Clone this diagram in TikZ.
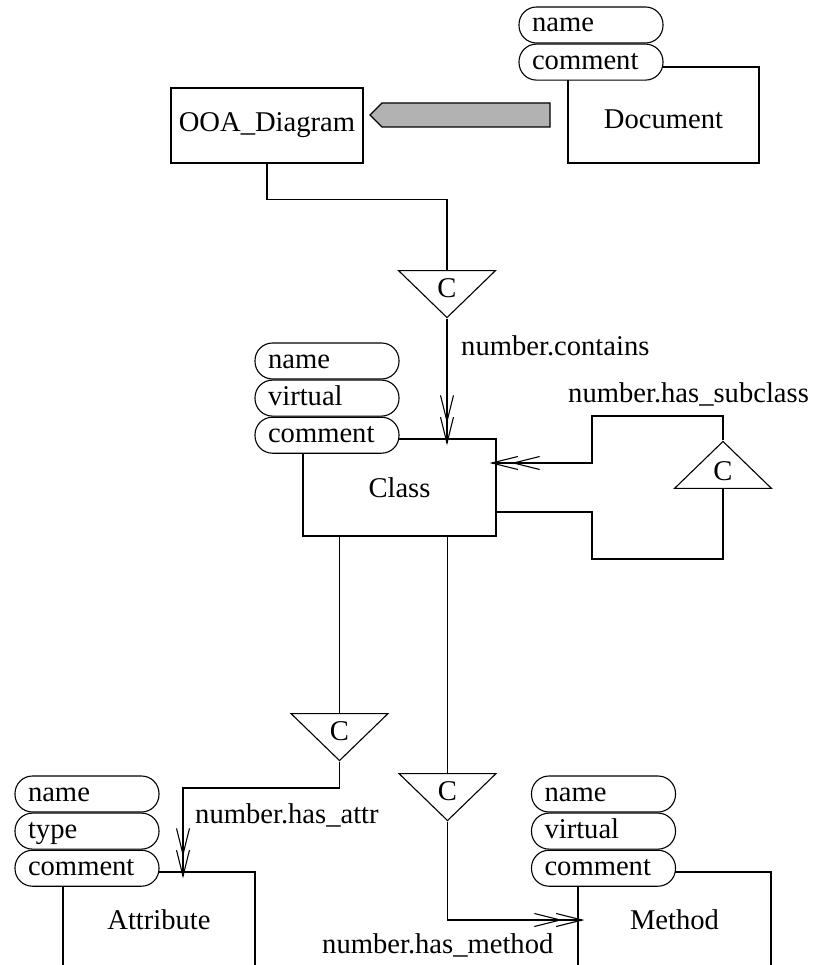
\documentclass[tikz,border=0pt]{standalone}
\usepackage{fontspec}
\setmainfont{Liberation Serif}
\usetikzlibrary{arrows.meta,calc,positioning,shapes.geometric,shapes.symbols}
\newcommand{\diagtext}{\fontsize{28.6}{32}\selectfont}
\tikzset{
  >={Straight Barb[length=26pt,width=13pt,sep=-7pt]},
  link/.style={draw=black,line width=1.1pt},
  card/.style={link,->>},
  entity/.style={draw,line width=1.1pt,fill=white,font=\diagtext,inner sep=0pt},
  attrpill/.style={draw,line width=1.1pt,fill=white,rounded corners=17.5pt,minimum height=36pt,text width=118pt,inner xsep=13pt,inner ysep=0pt,text height=21pt,text depth=7pt,align=left,font=\diagtext},
  ctri/.style={draw,line width=1.1pt,fill=white,isosceles triangle,isosceles triangle stretches,minimum width=97pt,minimum height=47pt,inner sep=0pt,font=\diagtext},
  cdown/.style={ctri,shape border rotate=-90},
  cup/.style={ctri,shape border rotate=90},
  rolelabel/.style={font=\diagtext,inner sep=0pt,anchor=base west}
}

\begin{document}
\begin{tikzpicture}[x=1pt,y=-1pt]
  \useasboundingbox (0,0) rectangle (817,965);
  \clip (0,0) rectangle (817,965);

  % Entity boxes, drawn before their attribute pills.
  \node[entity,minimum width=192pt,minimum height=75pt] (ooa) at (267,125.5) {OOA\_Diagram};
  \node[entity,minimum width=191pt,minimum height=96pt,text height=27pt] (document) at (663.5,115) {Document};
  \node[entity,minimum width=193pt,minimum height=97pt] (class) at (399.5,487.5) {Class};
  \node[entity,minimum width=192pt,minimum height=96pt] (attribute) at (159,920) {Attribute};
  \node[entity,minimum width=193pt,minimum height=96pt] (method) at (674.5,920) {Method};

  % Attribute pills.
  \node[attrpill] (docname) at (591,25) {name};
  \node[attrpill,below=0pt of docname] (doccomment) {comment};
  \node[attrpill] (classname) at (327,361) {name};
  \node[attrpill,below=0pt of classname] (classvirtual) {virtual};
  \node[attrpill,below=0pt of classvirtual] (classcomment) {comment};
  \node[attrpill] (attrname) at (87,794) {name};
  \node[attrpill,below=0pt of attrname] (attrtype) {type};
  \node[attrpill,below=0pt of attrtype] (attrcomment) {comment};
  \node[attrpill] (methname) at (603.5,794) {name};
  \node[attrpill,below=0pt of methname] (methvirtual) {virtual};
  \node[attrpill,below=0pt of methvirtual] (methcomment) {comment};

  % Document refers to the diagram.
  \node[signal,signal to=west,signal pointer angle=90,draw,line width=1.1pt,fill=black!30,minimum width=180pt,minimum height=24pt,inner sep=0pt] (docarrow) at (466,115) {};

  % Containment triangles.
  \node[cdown,anchor=apex] (contains) at (447,319) {C};
  \node[cup,anchor=apex] (subclass) at (723,440) {C};
  \node[cdown,anchor=apex] (hasattr) at (339.5,762) {C};
  \node[cdown,anchor=apex] (hasmethod) at (447.5,822) {C};

  \coordinate (subtop) at (592,416);
  \coordinate (subbot) at (592,559);

  % Connectors.
  \draw[link] (ooa.south) -- ++(0,36) -| (contains.north);
  \draw[card] (contains.apex) -- (contains.apex |- class.north);
  \draw[card] (subclass.apex) |- (subtop) |- ([yshift=24.5pt]class.east);
  \draw[link] (subclass.south) |- (subbot) |- ([yshift=-24.5pt]class.east);
  \draw[link] (class.south -| hasattr.north) -- (hasattr.north);
  \draw[card] (hasattr.apex) -- ++(0,26) -| ([xshift=24pt]attribute.north);
  \draw[link] (class.south -| hasmethod.north) -- (hasmethod.north);
  \draw[card] (hasmethod.apex) |- (method.west);

  % Role names.
  \node[rolelabel] (containslabel) at (461,355) {number.contains};
  \node[rolelabel] (subclasslabel) at (568,402) {number.has\_subclass};
  \node[rolelabel] (attrlabel) at (195,823) {number.has\_attr};
  \node[rolelabel] (methodlabel) at (322,953) {number.has\_method};
\end{tikzpicture}
\end{document}
